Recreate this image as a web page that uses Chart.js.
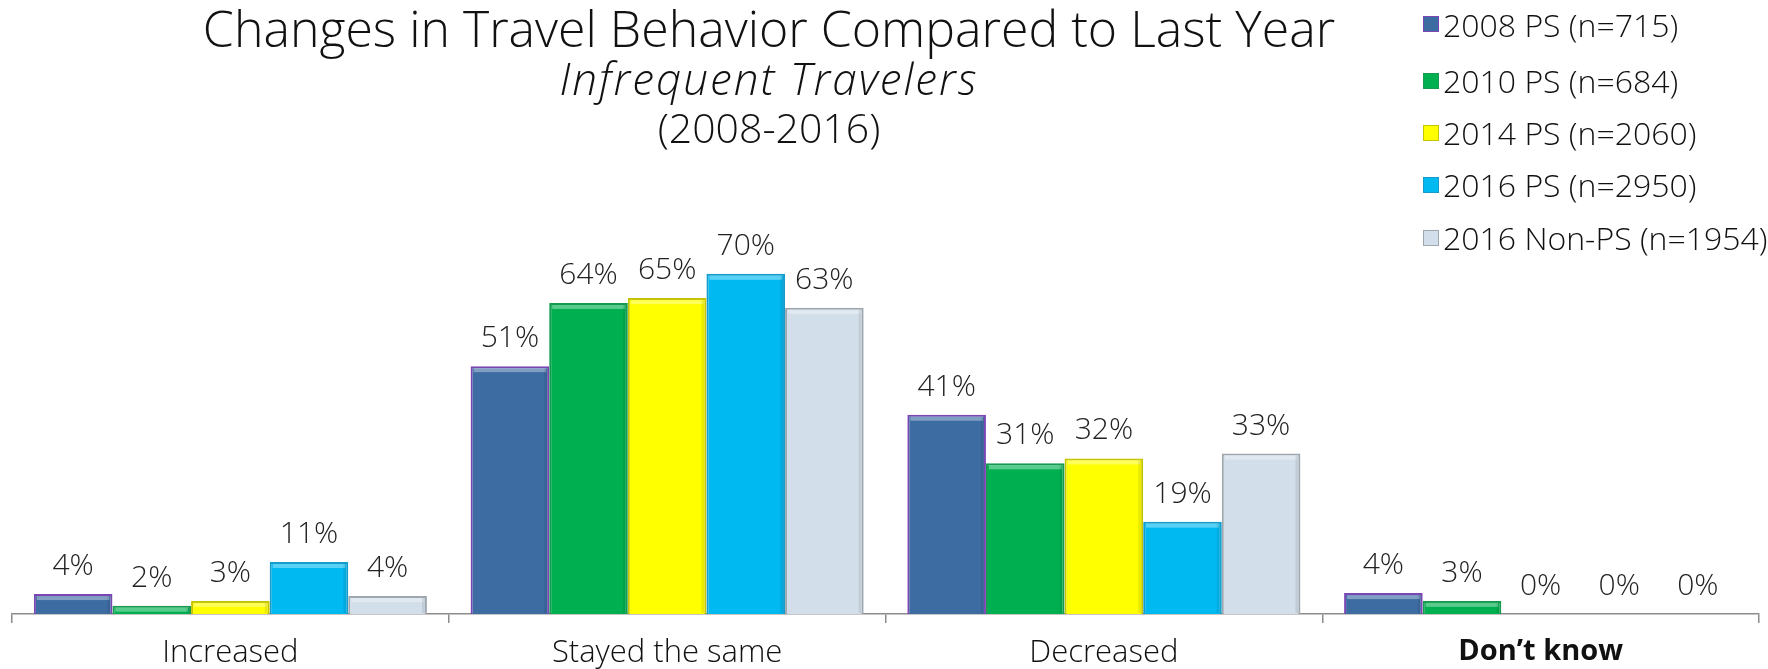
<!DOCTYPE html>
<html>
<head>
<meta charset="utf-8">
<script src="https://cdn.jsdelivr.net/npm/chart.js@4/dist/chart.umd.min.js"></script>
<style>
    body { margin: 0; background: #fff; overflow: hidden; font-family: "Open Sans", sans-serif; color: #111; }
    #wrap { position: relative; width: 1768px; height: 669px; }
    #chart { position: absolute; left: 0; top: 0; }
    .ttl { position: absolute; left: 0; width: 1538px; text-align: center; white-space: nowrap; font-weight: 300; }
    #legend { position: absolute; left: 1423px; top: 0; }
    .item { position: absolute; left: 0; height: 52px; display: flex; align-items: center; font-size: 32px; white-space: nowrap; font-weight: 300; }
    .box { width: 14px; height: 14px; border: 1px solid; margin-right: 4px; flex: none; }
</style>
</head>
<body>
<div id="wrap">
    <canvas id="chart" width="1768" height="669"></canvas>
    <div class="ttl" style="top:3px;font-size:50px;line-height:50px;">Changes in Travel Behavior Compared to Last Year</div>
    <div class="ttl" style="top:56px;font-size:44px;line-height:44px;font-style:italic;letter-spacing:2px;">Infrequent Travelers</div>
    <div class="ttl" style="top:107px;font-size:41px;line-height:41px;">(2008-2016)</div>
    <div id="legend"></div>
</div>
<script>
// data
const categories = ['Increased', 'Stayed the same', 'Decreased', 'Don\u2019t know'];
const seriesNames = ['2008 PS (n=715)', '2010 PS (n=684)', '2014 PS (n=2060)', '2016 PS (n=2950)', '2016 Non-PS (n=1954)'];
const ps2008 = [4.1, 51, 41, 4.3];
const ps2010 = [1.7, 64, 31, 2.7];
const ps2014 = [2.7, 65, 32, 0];
const ps2016 = [10.7, 70, 19, 0];
const nonPs2016 = [3.7, 63, 33, 0];

const fills = ['#3d6ca3', '#00b050', '#ffff00', '#00b9f1', '#d2dee9'];
const borders = ['#7a46b4', '#159a4e', '#c4c400', '#149ccc', '#9ea6ae'];
const FONT = '"Open Sans", sans-serif';

const seriesData = [ps2008, ps2010, ps2014, ps2016, nonPs2016];
const datasets = seriesData.map((d, i) => ({
    label: seriesNames[i],
    data: d,
    backgroundColor: fills[i],
    borderColor: borders[i],
    borderWidth: 2,
    borderSkipped: 'bottom'
}));

// legend as html, row centres picked to sit like the original
const rowMid = [24, 80.5, 132.5, 184.5, 237.5];
let html = '';
seriesNames.forEach((n, i) => {
    html += `<div class="item" style="top:${rowMid[i] - 26}px"><span class="box" style="background:${fills[i]};border-color:${borders[i]}"></span>${n}</div>`;
});
document.getElementById('legend').innerHTML = html;

// light bevel on top of each bar
const bevel = {
    id: 'bevel',
    afterDatasetsDraw(chart) {
        const ctx = chart.ctx;
        ctx.save();
        chart.data.datasets.forEach((ds, i) => {
            chart.getDatasetMeta(i).data.forEach(bar => {
                const h = bar.base - bar.y;
                if (h < 6) return;
                const l = bar.x - bar.width / 2 + 3, w = bar.width - 6;
                ctx.fillStyle = 'rgba(255,255,255,0.35)';
                ctx.fillRect(l, bar.y + 2, w, Math.min(4, h - 4));
                ctx.fillStyle = 'rgba(0,0,0,0.08)';
                ctx.fillRect(bar.x + bar.width / 2 - 5, bar.y + 2, 3, h - 3);
            });
        });
        ctx.restore();
    }
};

// value labels above bars
const barLabels = {
    id: 'barLabels',
    afterDatasetsDraw(chart) {
        const ctx = chart.ctx;
        ctx.save();
        ctx.font = '300 30px ' + FONT;
        ctx.fillStyle = '#222';
        ctx.textAlign = 'center';
        ctx.textBaseline = 'alphabetic';
        chart.data.datasets.forEach((ds, i) => {
            chart.getDatasetMeta(i).data.forEach((bar, j) => {
                ctx.fillText(Math.round(ds.data[j]) + '%', bar.x, bar.y - 19);
            });
        });
        ctx.restore();
    }
};

new Chart(document.getElementById('chart'), {
    type: 'bar',
    data: { labels: categories, datasets: datasets },
    options: {
        responsive: false,
        animation: false,
        layout: { padding: { top: 128, left: 12, right: 9, bottom: 0 } },
        datasets: { bar: { categoryPercentage: 0.9, barPercentage: 1 } },
        plugins: { legend: { display: false }, title: { display: false }, tooltip: { enabled: false } },
        scales: {
            y: { display: false, min: 0, max: 100 },
            x: {
                offset: true,
                afterFit: s => { s.height = 55; },
                grid: { offset: true, drawOnChartArea: false, drawTicks: true, tickLength: 9, color: '#8c8c8c', lineWidth: 1.5 },
                border: { display: true, color: '#8c8c8c', width: 1.5 },
                ticks: {
                    color: '#111',
                    padding: 13,
                    font: c => ({ family: FONT, size: c.index === 3 ? 29 : 31, lineHeight: 1.1, weight: c.index === 3 ? 'bold' : '300' })
                }
            }
        }
    },
    plugins: [bevel, barLabels]
});
</script>
</body>
</html>
